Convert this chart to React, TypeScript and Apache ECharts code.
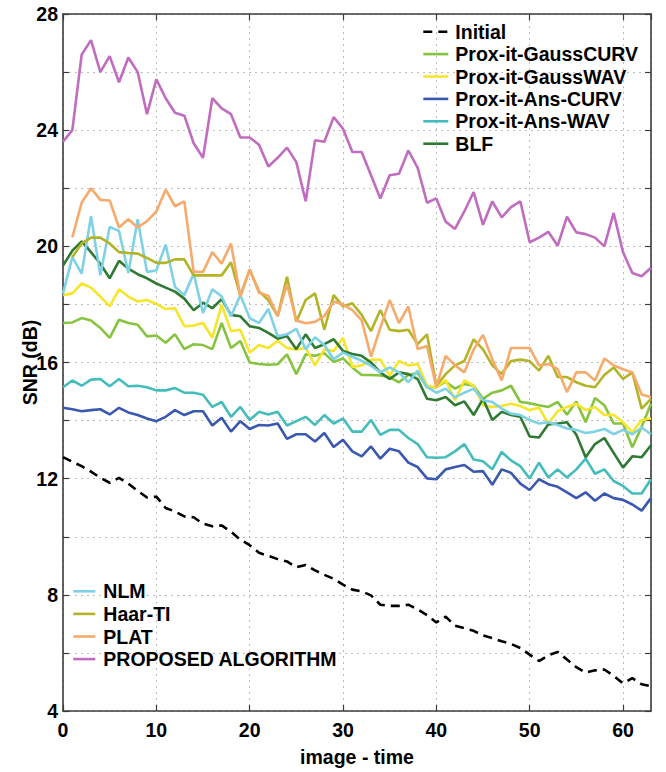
import React, { useEffect, useRef } from "react";
import * as echarts from "echarts";

// x positions: image index 0..63
const imageTime = Array.from({ length: 64 }, (_, i) => i);

const yTicks = [4, 8, 12, 16, 20, 24, 28];
const xTicks = [0, 10, 20, 30, 40, 50, 60];

const initial = [
  12.74, 12.58, 12.43, 12.24, 12.03, 11.86, 12.03, 11.83, 11.58, 11.35,
  11.38, 10.99, 10.87, 10.7, 10.67, 10.45, 10.36, 10.39, 10.17, 9.9,
  9.71, 9.45, 9.34, 9.23, 9.15, 8.95, 9.03, 8.84, 8.69, 8.55,
  8.35, 8.18, 8.12, 7.98, 7.66, 7.62, 7.62, 7.66, 7.5, 7.3,
  7.05, 7.25, 6.94, 6.85, 6.76, 6.6, 6.51, 6.4, 6.31, 6.17,
  5.94, 5.72, 5.92, 6.03, 5.77, 5.51, 5.32, 5.4, 5.43, 5.21,
  4.95, 5.13, 4.92, 4.85,
];

const gaussCurv = [
  17.36, 17.38, 17.53, 17.45, 17.19, 16.85, 17.47, 17.36, 17.3, 16.9,
  16.93, 16.68, 16.97, 16.46, 16.63, 16.6, 16.46, 17.36, 16.5, 16.74,
  16.0, 15.95, 15.92, 15.94, 16.28, 15.6, 16.28, 16.23, 16.32, 16.02,
  16.14, 15.83, 15.57, 15.57, 15.55, 15.49, 15.32, 15.57, 15.64, 15.15,
  15.15, 15.34, 15.1, 15.26, 15.2, 14.75, 14.96, 15.04, 15.2, 14.64,
  14.6, 14.53, 14.47, 14.64, 14.2, 14.66, 13.94, 14.78, 14.53, 13.9,
  13.9, 13.08, 13.79, 14.58,
];

const gaussWav = [
  18.32, 18.38, 18.72, 18.58, 18.27, 17.93, 18.52, 18.27, 18.1, 18.15,
  18.02, 17.84, 17.87, 17.25, 17.27, 17.36, 16.85, 17.98, 17.08, 17.13,
  16.34, 16.6, 16.5, 16.75, 16.5, 16.45, 16.5, 15.9, 16.45, 16.4,
  16.85, 15.85, 15.9, 16.1, 16.1, 15.55, 16.05, 15.9, 15.95, 15.2,
  15.15, 15.4, 14.7, 15.38, 15.2, 14.53, 14.47, 14.5, 14.58, 14.5,
  14.36, 14.44, 13.9, 14.32, 14.47, 14.58, 14.36, 14.47, 14.19, 14.2,
  13.94, 13.6, 14.02, 14.07,
];

const ansCurv = [
  14.44, 14.39, 14.32, 14.36, 14.39, 14.21, 14.44, 14.28, 14.19, 14.07,
  13.98, 14.13, 14.36, 14.19, 14.32, 14.32, 13.83, 14.1, 13.62, 13.98,
  13.71, 13.85, 13.83, 13.9, 13.37, 13.53, 13.53, 13.28, 13.57, 13.09,
  13.34, 12.94, 12.77, 13.11, 12.69, 13.03, 12.94, 12.55, 12.4, 12.01,
  11.98, 12.32, 12.4, 12.47, 12.24, 12.26, 11.79, 12.32, 12.2, 11.83,
  11.61, 11.98, 11.81, 11.72, 11.53, 11.33, 11.53, 11.24, 11.49, 11.33,
  11.27, 11.11, 10.9, 11.33,
];

const ansWav = [
  15.15, 15.38, 15.2, 15.41, 15.43, 15.18, 15.43, 15.18, 15.2, 15.15,
  15.04, 15.04, 15.12, 14.96, 14.96, 14.89, 14.47, 14.64, 14.13, 14.47,
  14.02, 14.3, 14.21, 14.3, 13.83, 13.98, 14.13, 13.85, 14.19, 13.9,
  14.07, 13.62, 13.62, 14.02, 13.51, 13.68, 13.68, 13.4, 13.19, 12.74,
  12.72, 12.74, 12.94, 13.19, 12.66, 12.6, 12.32, 12.92, 12.63, 12.43,
  12.01, 12.55, 12.04, 12.32, 12.04, 12.32, 12.69, 12.17, 12.32, 11.92,
  11.75, 11.49, 11.49, 11.98,
];

const blf = [
  19.34, 19.85, 20.17, 19.8, 19.4, 18.9, 19.5, 19.23, 19.04, 18.9,
  18.72, 18.58, 18.44, 18.2, 17.8, 18.06, 17.87, 18.18, 17.64, 17.59,
  17.25, 17.19, 17.02, 16.82, 16.91, 16.46, 16.97, 16.5, 16.63, 16.8,
  16.4, 16.29, 16.23, 16.0, 15.66, 15.43, 15.66, 15.6, 15.43, 14.75,
  14.7, 14.81, 14.53, 14.66, 14.19, 14.75, 14.02, 14.3, 14.19, 14.13,
  13.45, 13.42, 13.87, 13.9, 13.94, 13.51, 12.74, 13.19, 13.4, 12.89,
  12.38, 12.77, 12.74, 13.15,
];

const nlm = [
  18.38, 19.63, 19.06, 21.04, 19.0, 20.67, 20.53, 19.08, 20.93, 19.12,
  19.17, 20.06, 18.6, 18.32, 19.06, 17.7, 18.52, 18.27, 17.59, 18.32,
  17.53, 17.36, 17.84, 16.9, 16.97, 17.16, 16.46, 16.87, 16.6, 16.11,
  16.34, 16.2, 16.06, 15.89, 15.66, 15.83, 15.66, 15.32, 15.72, 15.15,
  14.96, 15.1, 14.8, 14.96, 15.1, 14.7, 14.64, 14.41, 14.24, 14.19,
  14.02, 13.9, 13.94, 13.85, 13.73, 13.68, 13.57, 13.62, 13.71, 13.53,
  13.68, 13.53, 13.76, 13.53,
];

const haarTi = [
  null, 19.63, 20.1, 20.3, 20.3, 20.1, 19.8, 19.77, 19.75, 19.6,
  19.43, 19.43, 19.55, 19.55, 19.0, 19.0, 19.0, 19.0, 19.45, 18.3,
  19.2, 18.45, 18.15, 17.6, 18.95, 17.4, 18.15, 18.38, 17.13, 18.32,
  17.93, 18.04, 17.64, 17.08, 17.81, 17.13, 17.08, 17.13, 16.63, 16.97,
  15.2, 15.6, 15.9, 16.05, 16.8, 16.45, 15.9, 15.6, 16.05, 16.1,
  16.05, 15.72, 16.23, 15.5, 15.5, 15.32, 15.2, 15.15, 15.57, 15.83,
  15.43, 15.66, 14.41, 14.75,
];

const plat = [
  null, 20.31, 21.5, 22.0, 21.6, 21.58, 20.65, 20.93, 20.65, 20.87,
  21.2, 21.95, 21.38, 21.55, 19.12, 19.12, 19.8, 19.4, 20.1, 18.27,
  19.2, 18.4, 18.3, 17.6, 18.7, 17.45, 17.35, 17.4, 17.6, 18.1,
  18.0, 17.8, 17.45, 16.2, 17.2, 18.15, 17.36, 17.93, 16.46, 16.57,
  15.15, 16.23, 15.9, 15.66, 16.45, 16.95, 16.1, 15.38, 16.5, 16.5,
  16.5, 15.9, 15.95, 15.77, 14.98, 15.66, 15.66, 15.38, 16.14, 15.9,
  15.77, 15.66, 14.9, 14.8,
];

const proposed = [
  23.6, 24.0, 26.6, 27.1, 26.0, 26.55, 25.65, 26.5, 26.0, 24.55,
  25.75, 25.1, 24.6, 24.5, 23.55, 23.05, 25.1, 24.75, 24.55, 23.75,
  23.75, 23.5, 22.75, 23.05, 23.4, 22.9, 21.55, 23.65, 23.6, 24.45,
  24.05, 23.25, 23.25, 22.45, 21.65, 22.45, 22.5, 23.3, 22.7, 21.5,
  21.65, 20.85, 20.6, 21.2, 21.87, 20.74, 21.55, 21.0, 21.35, 21.55,
  20.14, 20.3, 20.5, 20.02, 21.02, 20.48, 20.42, 20.3, 20.0, 21.15,
  19.8, 19.08, 18.97, 19.26,
];

const seriesNames = [
  "Initial",
  "Prox-it-GaussCURV",
  "Prox-it-GaussWAV",
  "Prox-it-Ans-CURV",
  "Prox-it-Ans-WAV",
  "BLF",
  "NLM",
  "Haar-TI",
  "PLAT",
  "PROPOSED ALGORITHM",
];
const seriesValues = [initial, gaussCurv, gaussWav, ansCurv, ansWav, blf, nlm, haarTi, plat, proposed];
const seriesColors = [
  "#000000",
  "#86c440",
  "#f7e52c",
  "#3a58b0",
  "#45bcbc",
  "#2f7a33",
  "#7fd2e6",
  "#b3b326",
  "#f6aa6c",
  "#c06cbf",
];

const FONT = '"Liberation Sans", Arial, Helvetica, sans-serif';

export default function App() {
  const ref = useRef<HTMLDivElement>(null);

  useEffect(() => {
    const chart = echarts.init(ref.current!, null, { renderer: "svg" });
    const axisColor = "#3c3c3c";
    const labelStyle = { fontSize: 19.5, fontWeight: "bold" as const, fontFamily: FONT, color: "#000" };
    const gridLine = { show: true, lineStyle: { color: "#bdbdbd", width: 1, type: [2, 4] as any } };

    const series = seriesNames.map((name, k) => ({
      name,
      type: "line",
      data: seriesValues[k].map((v, i) => [imageTime[i], v]),
      showSymbol: false,
      symbol: "none",
      silent: true,
      lineStyle: {
        color: seriesColors[k],
        width: 2.6,
        type: k === 0 ? ([9, 6] as any) : "solid",
      },
      itemStyle: { color: seriesColors[k] },
      emphasis: { disabled: true },
      z: 2 + k,
    }));

    const legendBase = {
      orient: "vertical",
      padding: 0,
      itemHeight: 12,
      itemGap: 0,
      selectedMode: false,
      itemStyle: { opacity: 0 },
      lineStyle: { width: 2.6 },
    };

    chart.setOption({
      animation: false,
      backgroundColor: "#ffffff",
      grid: { left: 63, right: 15, top: 14, bottom: 52, containLabel: false },
      xAxis: [
        {
          type: "value",
          min: 0,
          max: 63,
          interval: 10,
          name: "image - time",
          nameLocation: "middle",
          nameGap: 36,
          nameTextStyle: labelStyle,
          axisLine: { show: true, onZero: false, lineStyle: { color: axisColor, width: 1.6 } },
          axisTick: { show: true, inside: true, length: 6, lineStyle: { color: axisColor, width: 1.2 } },
          axisLabel: {
            ...labelStyle,
            margin: 9,
            showMaxLabel: false,
            formatter: (v: number) => (xTicks.includes(v) ? String(v) : ""),
          },
          splitLine: gridLine,
        },
        {
          type: "value",
          position: "top",
          min: 0,
          max: 63,
          interval: 10,
          axisLine: { show: true, onZero: false, lineStyle: { color: axisColor, width: 1.6 } },
          axisTick: { show: true, inside: true, length: 6, lineStyle: { color: axisColor, width: 1.2 } },
          axisLabel: { show: false },
          splitLine: { show: false },
        },
      ],
      yAxis: [
        {
          type: "value",
          min: 4,
          max: 28,
          interval: 2,
          name: "SNR (dB)",
          nameLocation: "middle",
          nameGap: 23,
          nameMoveOverlap: false,
          nameTextStyle: labelStyle,
          axisLine: { show: true, onZero: false, lineStyle: { color: axisColor, width: 1.6 } },
          axisTick: { show: true, inside: true, length: 6, lineStyle: { color: axisColor, width: 1.2 } },
          axisLabel: {
            ...labelStyle,
            margin: 5,
            formatter: (v: number) => (yTicks.includes(v) ? String(v) : ""),
          },
          splitLine: gridLine,
        },
        {
          type: "value",
          position: "right",
          min: 4,
          max: 28,
          interval: 2,
          axisLine: { show: true, onZero: false, lineStyle: { color: axisColor, width: 1.6 } },
          axisTick: { show: true, inside: true, length: 6, lineStyle: { color: axisColor, width: 1.2 } },
          axisLabel: { show: false },
          splitLine: { show: false },
        },
      ],
      legend: [
        {
          ...legendBase,
          data: seriesNames.slice(0, 6),
          left: 422,
          top: 20.5,
          itemWidth: 25,
          textStyle: { ...labelStyle, lineHeight: 22.4, padding: [0, 0, 0, 2] },
        },
        {
          ...legendBase,
          data: seriesNames.slice(6),
          left: 72,
          top: 580,
          itemWidth: 22,
          textStyle: { ...labelStyle, lineHeight: 22.6, padding: [0, 0, 0, 3] },
        },
      ],
      series,
    });

    return () => chart.dispose();
  }, []);

  return (
    <div
      ref={ref}
      style={{ position: "absolute", left: 0, top: 0, width: 666, height: 772, background: "#fff" }}
    />
  );
}
